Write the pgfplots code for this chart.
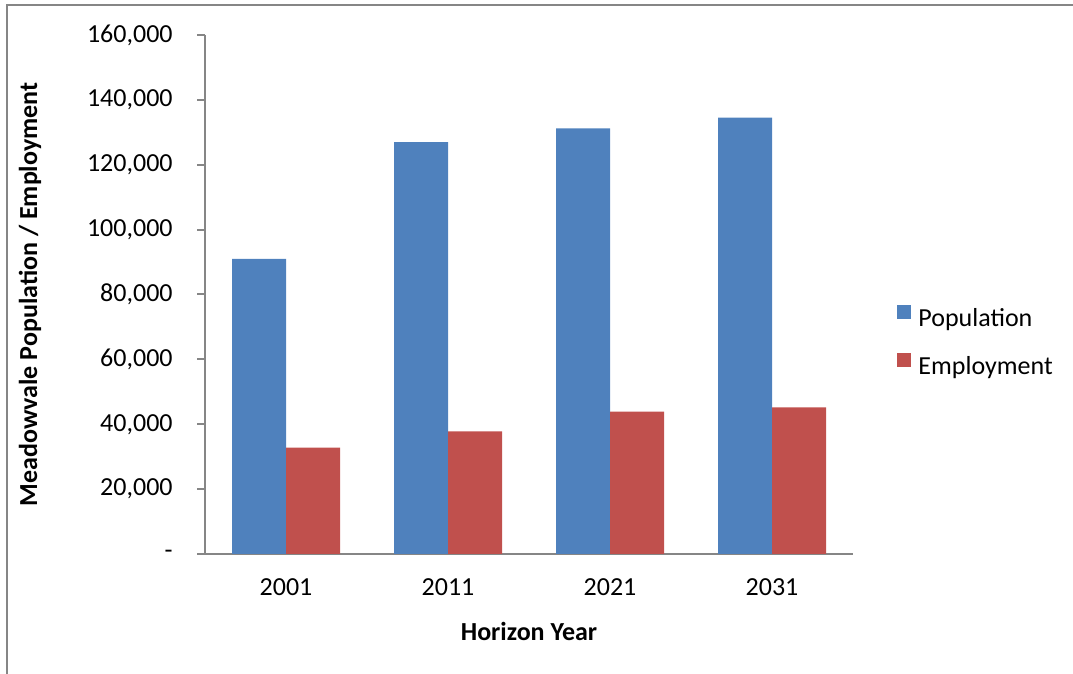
\documentclass[border=0pt]{standalone}
\usepackage{fontspec}
\setmainfont{Carlito}
\usepackage{pgfplots}
\pgfplotsset{compat=1.18}
\definecolor{popblue}{HTML}{4F81BD}
\definecolor{empred}{HTML}{C0504D}
\definecolor{axgray}{HTML}{868686}
\begin{document}
\begin{tikzpicture}[font=\fontsize{13bp}{15.6bp}\selectfont]
\useasboundingbox (0,0) rectangle (536.5bp,337bp);
\draw[axgray, line width=1bp] (3.5bp,0) -- (3.5bp,334.25bp) -- (537bp,334.25bp);
\begin{axis}[
  at={(102.5bp,60bp)}, anchor=south west, scale only axis,
  width=324bp, height=259.5bp,
  ybar=0pt, bar width=27bp,
  xmin=-0.5, xmax=3.5, ymin=0, ymax=160000,
  xtick={0,1,2,3}, xticklabels={2001,2011,2021,2031},
  ytick={0,20000,40000,60000,80000,100000,120000,140000,160000},
  yticklabels={{-},{20,000},{40,000},{60,000},{80,000},{100,000},{120,000},{140,000},{160,000}},
  scaled y ticks=false,
  axis lines*=left,
  axis line style={axgray, line width=1bp},
  tick align=outside, major tick length=4bp,
  tick style={axgray, line width=1bp},
  xtick style={draw=none},
  ytick style={axgray, line width=1bp},
  yticklabel style={anchor=east, inner sep=0pt, xshift=-12bp, text=black},
  xticklabel style={anchor=center, inner sep=0pt, yshift=-12.5bp, text=black},
  xlabel={\bfseries Horizon Year},
  ylabel={\bfseries Meadowvale Population / Employment},
  xlabel style={at={(rel axis cs:0.5,0)}, anchor=center, yshift=-38.5bp},
  ylabel style={at={(rel axis cs:-0.270,0.5)}, anchor=center},
  legend style={draw=none, fill=none, at={(rel axis cs:1.068,0.407)}, anchor=west,
    inner sep=0pt, row sep=10.5bp, column sep=3.5bp,
    nodes={inner sep=0pt, text height=9bp, text depth=3bp, anchor=west}},
  legend cell align=left,
  legend image code/.code={\fill[#1] (0bp,0.7bp) rectangle (7bp,7.7bp);},
]
\addplot[fill=popblue, draw=none] coordinates {(0,91000) (1,127000) (2,131200) (3,134500)};
\addplot[fill=empred, draw=none] coordinates {(0,32800) (1,37800) (2,43900) (3,45200)};
\legend{Population, Employment}
\end{axis}
\end{tikzpicture}
\end{document}
